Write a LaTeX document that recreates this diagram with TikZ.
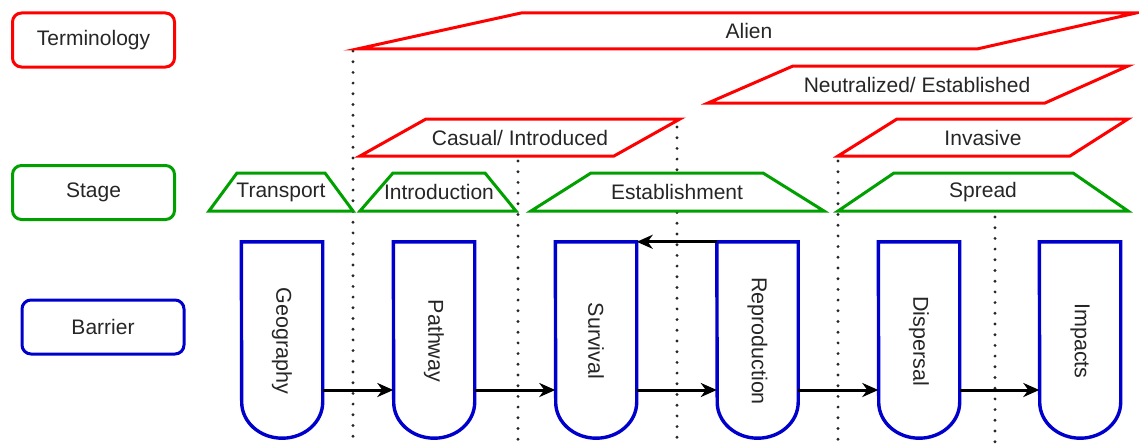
\documentclass[tikz,border=0pt]{standalone}
\usepackage{fontspec}
\setmainfont{Liberation Sans}
\usetikzlibrary{arrows.meta,calc}
\definecolor{termred}{HTML}{FF0000}
\definecolor{stagegreen}{HTML}{00A000}
\definecolor{barblue}{HTML}{0000CC}
\definecolor{txt}{HTML}{262626}

% outline of a barrier: flat top, straight sides, rounded bottom
\newcommand{\barrieroutline}[1]{%
  \draw[barrierline] (#1.north west) -- (#1.north east)
    -- ($(#1.south east)+(0,-36)$)
    arc[start angle=0,end angle=-180,x radius=40.5pt,y radius=36pt] -- cycle;}

\begin{document}
\begin{tikzpicture}[x=1pt,y=-1pt,
  lbl/.style={font=\fontsize{21}{25}\selectfont, text=txt, inner sep=0pt},
  barlbl/.style={font=\fontsize{21.5}{25}\selectfont, text=txt, inner sep=0pt, rotate=-90},
  legendbox/.style={draw, line width=3pt, rounded corners=9pt, minimum width=162pt, minimum height=54pt, fill=white, lbl},
  termshape/.style={draw=termred, line width=3pt, fill=white},
  stageshape/.style={draw=stagegreen, line width=3pt, fill=white},
  barrierbox/.style={minimum width=81pt, minimum height=196pt, inner sep=0pt},
  barrierline/.style={draw=barblue, line width=3.4pt, fill=white},
  flow/.style={draw=black, line width=3pt, -{Stealth[length=16pt,width=14pt,inset=5pt]}},
  sep/.style={draw=black!85, line width=3.2pt, line cap=round, dash pattern=on 0pt off 10.7pt},
]
\useasboundingbox (0,0) rectangle (1139,444);

% legend
\node[legendbox, draw=termred] (lterm) at (93.5,40) {Terminology};
\node[legendbox, draw=stagegreen] (lstage) at (93.5,192.5) {Stage};
\node[legendbox, draw=barblue] (lbarrier) at (103,327) {Barrier};

% dotted separators
\coordinate (s1a) at (353,51);  \coordinate (s1b) at (353,444);
\coordinate (s2a) at (518,161); \coordinate (s2b) at (518,444);
\coordinate (s3a) at (677,127); \coordinate (s3b) at (677,444);
\coordinate (s4a) at (838,161); \coordinate (s4b) at (838,444);
\coordinate (s5a) at (995,217); \coordinate (s5b) at (995,444);
\foreach \s in {1,...,5} \draw[sep] (s\s a) -- (s\s b);

% terminology
\draw[termshape] (521,13) -- (1136,13) -- (977,49) -- (357,49) -- cycle;
\node[lbl] (alien) at (749,31) {Alien};
\draw[termshape] (793,66) -- (1128,66) -- (1045,103) -- (708,103) -- cycle;
\node[lbl] (neutral) at (917,85) {Neutralized/ Established};
\draw[termshape] (426,119) -- (680,119) -- (614,156) -- (360,156) -- cycle;
\node[lbl] (casual) at (520,138) {Casual/ Introduced};
\draw[termshape] (897,119) -- (1128,119) -- (1070,156) -- (838,156) -- cycle;
\node[lbl] (invasive) at (983,138) {Invasive};

% stages
\draw[stageshape] (237,173) -- (325,173) -- (353,211) -- (209,211) -- cycle;
\node[lbl] (transport) at (281,192) {Transport};
\draw[stageshape] (393,173) -- (485,173) -- (516,211) -- (360,211) -- cycle;
\node[lbl] (introduction) at (439,192) {Introduction};
\draw[stageshape] (591,173) -- (763,173) -- (824,211) -- (531,211) -- cycle;
\node[lbl] (establishment) at (677,192) {Establishment};
\draw[stageshape] (894,173) -- (1073,173) -- (1128,211) -- (838,211) -- cycle;
\node[lbl] (spread) at (983,192) {Spread};

% barriers
\node[barrierbox] (geo) at (282,340) {};
\node[barrierbox] (pth) at (434,340) {};
\node[barrierbox] (sur) at (596,340) {};
\node[barrierbox] (rep) at (757.5,340) {};
\node[barrierbox] (dis) at (919,340) {};
\node[barrierbox] (imp) at (1080,340) {};
\foreach \b in {geo,pth,sur,rep,dis,imp} \barrieroutline{\b};
\node[barlbl] (geo-t) at (282,341) {Geography};
\node[barlbl] (pth-t) at (434,341) {Pathway};
\node[barlbl] (sur-t) at (596,341) {Survival};
\node[barlbl] (rep-t) at (757.5,341) {Reproduction};
\node[barlbl] (dis-t) at (919,341) {Dispersal};
\node[barlbl] (imp-t) at (1080,341) {Impacts};

% flow between barriers
\coordinate (flowrow) at (0,390);
\draw[flow] (geo.east |- flowrow) -- (pth.west |- flowrow);
\draw[flow] (pth.east |- flowrow) -- (sur.west |- flowrow);
\draw[flow] (sur.east |- flowrow) -- (rep.west |- flowrow);
\draw[flow] (rep.east |- flowrow) -- (dis.west |- flowrow);
\draw[flow] (dis.east |- flowrow) -- (imp.west |- flowrow);
\draw[flow] (rep.north west) -- (sur.north east);
\end{tikzpicture}
\end{document}
